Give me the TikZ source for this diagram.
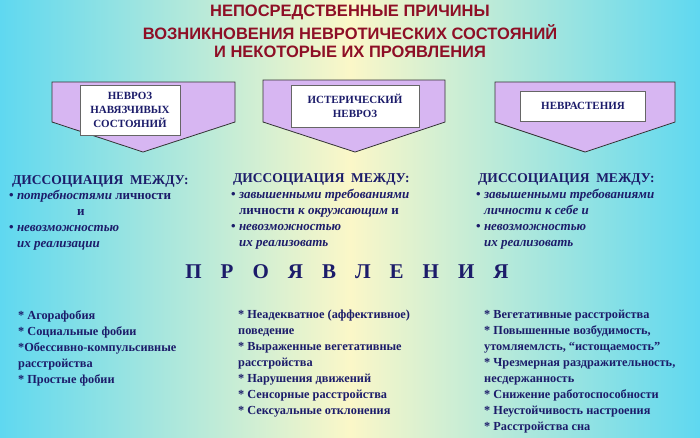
\documentclass[tikz,border=0pt]{standalone}
\usepackage{fontspec}
\setmainfont{Liberation Serif}
\newfontfamily\titlefont{Liberation Sans}
\definecolor{navy}{HTML}{1C1C6A}
\definecolor{tred}{HTML}{8E0F26}
\definecolor{lav}{HTML}{D7B6F2}
\definecolor{bgc}{HTML}{5FD8F0}
\definecolor{bgy}{HTML}{FBF7C8}
\begin{document}
\begin{tikzpicture}[x=1pt,y=-1pt,
  title/.style={font=\titlefont\bfseries\fontsize{16.5}{18}\selectfont,text=tred,anchor=center},
  arr/.style={draw=black!80,line width=0.8pt,fill=lav},
  lab/.style={fill=white,draw=black!60,font=\bfseries\fontsize{11}{14}\selectfont,text=navy,align=center,inner sep=4pt},
  hdr/.style={font=\bfseries\fontsize{13.5}{16}\selectfont,text=navy,anchor=west,inner sep=0},
  txt/.style={font=\bfseries\fontsize{13}{16}\selectfont,text=navy,anchor=north west,align=left,inner sep=0},
  lst/.style={font=\bfseries\fontsize{12.3}{16}\selectfont,text=navy,anchor=north west,align=left,inner sep=0}]
\useasboundingbox (0,0) rectangle (700,437);
\shade[left color=bgc, right color=bgy] (0,0) rectangle (350,437);
\shade[left color=bgy, right color=bgc] (350,0) rectangle (700,437);
\node[title] (t1) at (350,12) {НЕПОСРЕДСТВЕННЫЕ ПРИЧИНЫ};
\node[title] (t2) at (350,32) {ВОЗНИКНОВЕНИЯ НЕВРОТИЧЕСКИХ СОСТОЯНИЙ};
\node[title] (t3) at (350,52) {И НЕКОТОРЫЕ ИХ ПРОЯВЛЕНИЯ};
% arrows
\draw[arr] (52,82) -- (235,82) -- (235,122) -- (143,152) -- (52,122) -- cycle;
\draw[arr] (263,80) -- (445,80) -- (445,122) -- (355,152) -- (263,122) -- cycle;
\draw[arr] (495,82) -- (675,82) -- (675,122) -- (585,152) -- (495,122) -- cycle;
\node[lab,minimum width=100pt,minimum height=50pt] (a1) at (130,110) {НЕВРОЗ\\НАВЯЗЧИВЫХ\\СОСТОЯНИЙ};
\node[lab,minimum width=128pt,minimum height=42pt] (a2) at (355,106) {ИСТЕРИЧЕСКИЙ\\НЕВРОЗ};
\node[lab,minimum width=125pt,minimum height=30pt] (a3) at (583,106) {НЕВРАСТЕНИЯ};
% dissociation
\node[hdr] (h1) at (12,181) {ДИССОЦИАЦИЯ\ \ МЕЖДУ:};
\node[hdr] (h2) at (233,179) {ДИССОЦИАЦИЯ\ \ МЕЖДУ:};
\node[hdr] (h3) at (478,179) {ДИССОЦИАЦИЯ\ \ МЕЖДУ:};
\node[txt] (d1) at (9,190) {• \textit{потребностями} личности\\\hspace*{68pt}и\\• \textit{невозможностью}\\\hspace*{8pt}\textit{их реализации}};
\node[txt] (d2) at (231,189) {• \textit{завышенными требованиями}\\\hspace*{8pt}личности \textit{к окружающим} и\\• \textit{невозможностью}\\\hspace*{8pt}\textit{их реализовать}};
\node[txt] (d3) at (476,189) {• \textit{завышенными требованиями}\\\hspace*{8pt}\textit{личности к себе и}\\• \textit{невозможностью}\\\hspace*{8pt}\textit{их реализовать}};
\node[font=\bfseries\fontsize{21}{24}\selectfont,text=navy] (pr) at (347,272) {П\hspace{19pt}Р\hspace{19pt}О\hspace{19pt}Я\hspace{19pt}В\hspace{19pt}Л\hspace{19pt}Е\hspace{19pt}Н\hspace{19pt}И\hspace{19pt}Я};
% lists
\node[lst] (l1) at (18,310) {* Агорафобия\\* Социальные фобии\\*Обессивно-компульсивные\\расстройства\\* Простые фобии};
\node[lst] (l2) at (238,310) {* Неадекватное (аффективное)\\поведение\\* Выраженные вегетативные\\расстройства\\* Нарушения движений\\* Сенсорные расстройства\\* Сексуальные отклонения};
\node[lst] (l3) at (484,310) {* Вегетативные расстройства\\* Повышенные возбудимость,\\утомляемлсть, “истощаемость”\\* Чрезмерная раздражительность,\\несдержанность\\* Снижение работоспособности\\* Неустойчивость настроения\\* Расстройства сна};
\end{tikzpicture}
\end{document}
